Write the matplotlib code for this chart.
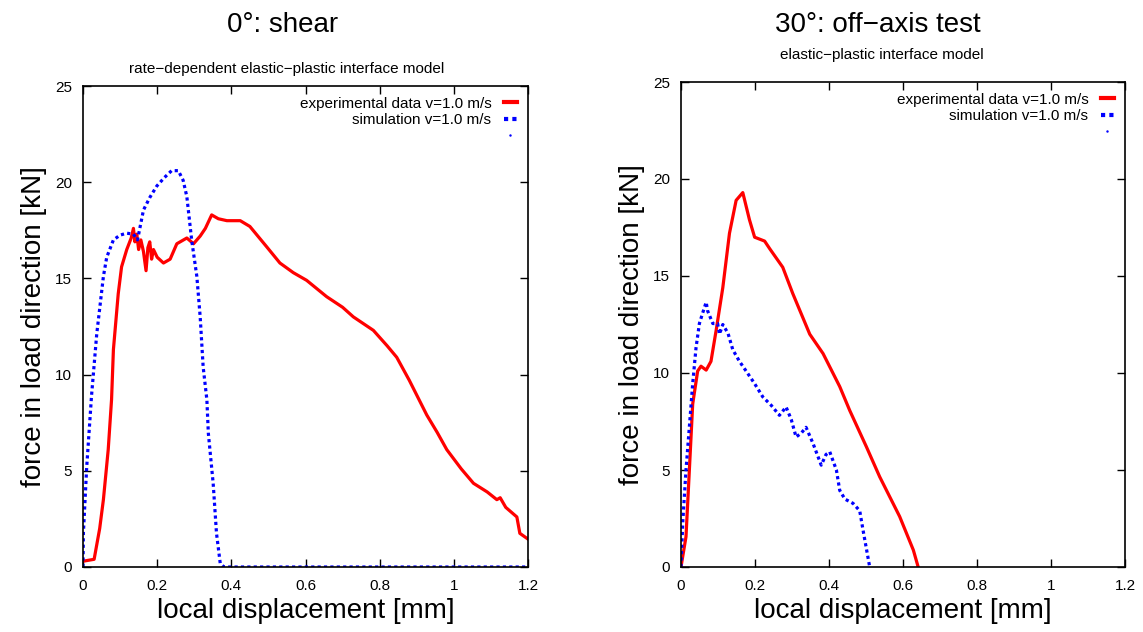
import matplotlib as mpl
import matplotlib.pyplot as plt
from matplotlib.lines import Line2D

# gnuplot-like look
plt.rcParams['font.family'] = ['Liberation Sans', 'DejaVu Sans']
plt.rc('xtick', labelsize=11, direction='in', top=True)
plt.rc('ytick', labelsize=11, direction='in', right=True)

# 0 deg: shear, experiment
exp0_x = [0.0, 0.03, 0.045, 0.055, 0.068, 0.077, 0.082, 0.095, 0.104, 0.118, 0.13, 0.136,
          0.14, 0.145, 0.15, 0.156, 0.163, 0.17, 0.175, 0.18, 0.185, 0.19, 0.2, 0.217,
          0.235, 0.253, 0.28, 0.298, 0.316, 0.33, 0.347, 0.365, 0.388, 0.424, 0.45, 0.495,
          0.531, 0.567, 0.603, 0.657, 0.7, 0.729, 0.783, 0.82, 0.846, 0.88, 0.927, 0.955,
          0.981, 1.02, 1.053, 1.09, 1.116, 1.125, 1.14, 1.17, 1.178, 1.2]
exp0_y = [0.3, 0.4, 2.0, 3.5, 6.1, 8.7, 11.3, 14.2, 15.6, 16.5, 17.1, 17.6,
          16.9, 17.3, 16.5, 17.0, 16.4, 15.4, 16.6, 16.9, 16.0, 16.5, 16.1, 15.8,
          16.0, 16.8, 17.1, 16.8, 17.2, 17.6, 18.3, 18.1, 18.0, 18.0, 17.7, 16.65,
          15.8, 15.3, 14.9, 14.05, 13.5, 13.0, 12.3, 11.5, 10.9, 9.7, 7.9, 7.0,
          6.1, 5.1, 4.35, 3.9, 3.5, 3.6, 3.1, 2.6, 1.75, 1.45]

# 0 deg: shear, simulation
sim0_x = [0.0, 0.001, 0.01, 0.023, 0.037, 0.055, 0.064, 0.082, 0.1, 0.118, 0.136, 0.147,
          0.163, 0.18, 0.199, 0.22, 0.239, 0.257, 0.27, 0.28, 0.293, 0.307, 0.316, 0.324,
          0.334, 0.338, 0.351, 0.36, 0.37, 0.38, 0.5, 0.7, 0.9, 1.1, 1.2]
sim0_y = [0.0, 1.75, 5.2, 8.9, 12.1, 15.1, 16.1, 17.0, 17.25, 17.35, 17.3, 17.0,
          18.55, 19.2, 19.8, 20.25, 20.6, 20.6, 20.1, 19.25, 17.0, 15.1, 13.0, 10.4,
          8.7, 6.95, 4.35, 1.75, 0.2, 0.0, 0.0, 0.0, 0.0, 0.0, 0.0]

# 30 deg: off-axis, experiment
exp30_x = [0.0, 0.0135, 0.0316, 0.045, 0.054, 0.068, 0.081, 0.095, 0.113, 0.131, 0.149,
           0.167, 0.185, 0.199, 0.226, 0.24, 0.275, 0.302, 0.348, 0.384, 0.429, 0.456,
           0.501, 0.537, 0.591, 0.628, 0.641]
exp30_y = [0.0, 1.56, 8.4, 10.1, 10.35, 10.15, 10.6, 12.2, 14.4, 17.2, 18.9,
           19.3, 17.9, 17.0, 16.8, 16.4, 15.45, 14.1, 12.0, 11.0, 9.3, 8.07,
           6.2, 4.65, 2.6, 0.87, 0.0]

# 30 deg: off-axis, simulation
sim30_x = [0.0, 0.005, 0.0135, 0.0225, 0.0316, 0.0406, 0.0497, 0.0587, 0.068, 0.072,
           0.086, 0.099, 0.104, 0.113, 0.127, 0.14, 0.158, 0.176, 0.199, 0.221, 0.244,
           0.266, 0.284, 0.298, 0.311, 0.325, 0.338, 0.357, 0.379, 0.392, 0.402, 0.42,
           0.429, 0.443, 0.465, 0.483, 0.492, 0.51]
sim30_y = [0.0, 2.4, 5.0, 7.2, 9.45, 11.3, 12.55, 13.1, 13.65, 13.2,
           12.55, 12.55, 12.0, 12.5, 12.05, 11.2, 10.6, 10.1, 9.45, 8.77, 8.33,
           7.82, 8.25, 7.6, 6.7, 6.9, 7.2, 6.36, 5.25, 5.8, 5.94, 5.0,
           3.95, 3.5, 3.28, 2.9, 1.9, 0.0]

exp_label = 'experimental data v=1.0 m/s'
sim_label = 'simulation v=1.0 m/s'

fig = plt.figure(figsize=(11.43, 6.32), dpi=100)
W, H = 1143, 632

# axes boxes in pixels: left, right, top, bottom
boxes = [(83, 528, 86, 567), (681, 1125, 82, 567)]
panels = [(exp0_x, exp0_y, sim0_x, sim0_y), (exp30_x, exp30_y, sim30_x, sim30_y)]
titles = ['0°: shear', '30°: off\u2212axis test']
subtitles = ['rate\u2212dependent elastic\u2212plastic interface model',
             'elastic\u2212plastic interface model']
title_pos = [(283, 25, 69), (878, 25, 55)]

for (l, r, t, b), (ex, ey, sx, sy), ttl, sub, (tx, ty, sty) in zip(
        boxes, panels, titles, subtitles, title_pos):
    ax = fig.add_axes([l / W, 1 - b / H, (r - l) / W, (b - t) / H])
    ax.plot(ex, ey, color='red', lw=2.3, label=exp_label)
    ax.plot(sx, sy, color='blue', lw=2.3, ls=(0, (1, 1)), label=sim_label)
    ax.set_xlim(0, 1.2)
    ax.set_ylim(0, 25)
    ax.set_xticks([0, 0.2, 0.4, 0.6, 0.8, 1.0, 1.2])
    ax.set_xticklabels(['0', '0.2', '0.4', '0.6', '0.8', '1', '1.2'])
    ax.set_yticks([0, 5, 10, 15, 20, 25])
    ax.tick_params(length=6, width=1)
    ax.tick_params(axis='x', pad=9)
    ax.tick_params(axis='y', pad=8)
    for s in ax.spines.values():
        s.set_linewidth(1.2)
    ax.set_xlabel('local displacement [mm]', fontsize=20, labelpad=3)
    ax.set_ylabel('force in load direction [kN]', fontsize=20, labelpad=6)

    # Legend, gnuplot style (text first, sample at right)
    handles = [Line2D([], [], color='red', lw=3),
               Line2D([], [], color='blue', lw=3, ls=(0, (1, 1))),
               Line2D([], [], color='blue', lw=0, marker='.', markersize=1.5)]
    ax.legend(handles, [exp_label, sim_label, ''], loc='upper right', frameon=False,
              markerfirst=False, fontsize=11, handlelength=0.9, handletextpad=0.8,
              labelspacing=0.15, borderaxespad=0.3)

    fig.text(tx / W, 1 - ty / H, ttl, ha='center', va='center', fontsize=20)
    fig.text(tx / W + 4 / W, 1 - sty / H, sub, ha='center', va='center', fontsize=11)

fig.savefig('out.png', dpi=100)
